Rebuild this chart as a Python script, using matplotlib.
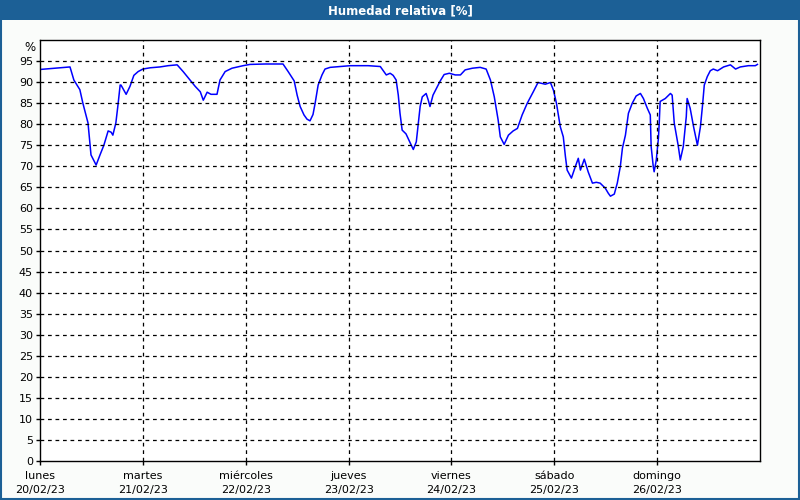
import matplotlib
matplotlib.use("Agg")
import matplotlib.pyplot as plt
from matplotlib.patches import Rectangle
import numpy as np

# horas desde lunes 00:00 y humedad relativa (%)
horas = [0, 3.5, 7.0, 7.9, 9.3, 10.0, 11.2, 11.7, 11.9, 12.6, 13.1, 14.0, 14.9, 15.9,
         16.6, 17.0, 17.7, 18.2, 18.7, 18.9, 20.1, 21.0, 21.9, 22.9, 24.0, 25.7, 28.0,
         29.9, 32.0, 33.4, 35.0, 36.2, 37.4, 38.1, 39.0, 39.9, 41.3, 42.0, 43.2, 44.8,
         47.4, 49.0, 52.5, 56.7, 57.9, 59.3, 60.0, 60.7, 61.6, 62.3, 63.0, 63.7, 64.2,
         64.9, 65.8, 66.5, 67.7, 72.4, 76.6, 79.4, 80.8, 81.7, 82.4, 83.1, 83.6, 84.0,
         84.5, 85.4, 86.1, 87.1, 87.8, 88.7, 89.2, 90.1, 90.6, 91.0, 91.7, 93.4, 94.3,
         95.5, 96.9, 98.1, 99.2, 100.9, 102.7, 104.1, 105.1, 106.0, 106.9, 107.4, 108.3,
         109.3, 110.4, 111.4, 112.5, 113.7, 115.1, 116.2, 117.9, 119.1, 119.8, 120.5,
         121.4, 122.1, 122.6, 123.0, 124.0, 124.9, 125.6, 126.1, 127.0, 127.9, 128.9,
         129.8, 130.7, 131.9, 132.6, 133.1, 134.0, 134.7, 135.4, 135.9, 136.6, 137.3,
         138.2, 139.1, 140.1, 140.8, 141.7, 142.4, 142.6, 143.1, 143.3, 143.8, 144.3,
         144.5, 144.7, 145.9, 147.1, 147.5, 148.0, 148.9, 149.4, 150.1, 150.8, 151.0,
         151.7, 152.5, 153.4, 154.1, 154.6, 155.0, 155.7, 156.4, 157.1, 158.1, 159.5,
         161.1, 162.3, 163.4, 165.3, 166.9, 167.4]
humedad = [93.0, 93.3, 93.6, 90.5, 88.2, 85.0, 80.3, 75.0, 72.7, 71.3, 70.3, 72.7, 75.0,
           78.4, 78.1, 77.4, 80.3, 84.6, 89.3, 89.3, 87.1, 89.0, 91.6, 92.5, 93.1, 93.4,
           93.6, 93.9, 94.1, 92.5, 90.5, 89.0, 87.7, 85.7, 87.6, 87.1, 87.1, 90.5, 92.5,
           93.3, 93.9, 94.2, 94.3, 94.3, 92.5, 90.3, 86.9, 84.2, 82.2, 81.2, 80.8, 82.3,
           85.0, 89.3, 91.7, 93.1, 93.5, 93.9, 93.9, 93.7, 91.7, 92.1, 91.6, 90.5, 86.9,
           82.6, 78.6, 77.7, 76.2, 74.0, 75.8, 84.2, 86.5, 87.3, 85.7, 84.2, 86.9, 90.3,
           91.8, 92.1, 91.7, 91.7, 92.9, 93.3, 93.5, 93.1, 90.5, 86.5, 81.0, 77.0, 75.2,
           77.4, 78.4, 79.0, 82.2, 85.0, 87.7, 89.9, 89.5, 89.9, 88.1, 85.0, 79.4, 77.0,
           72.3, 69.1, 67.2, 69.9, 71.9, 69.1, 71.7, 68.7, 66.0, 66.2, 66.0, 64.8, 63.6,
           62.9, 63.4, 66.0, 69.9, 74.3, 77.4, 82.6, 85.0, 86.7, 87.3, 86.1, 83.8, 82.2,
           74.7, 69.9, 68.7, 71.5, 76.7, 80.6, 85.4, 86.1, 87.3, 86.9, 80.2, 75.0, 71.5,
           74.7, 81.8, 86.1, 83.8, 79.4, 75.0, 79.4, 84.6, 89.3, 91.3, 92.7, 93.1, 92.7,
           93.6, 94.1, 93.1, 93.6, 93.9, 93.9, 94.2]

dias = ["lunes", "martes", "miércoles", "jueves", "viernes", "sábado", "domingo"]
fechas = ["20/02/23", "21/02/23", "22/02/23", "23/02/23", "24/02/23", "25/02/23", "26/02/23"]

fondo = "#fafcfa"
azul_barra = "#1c6096"

fig = plt.figure(figsize=(8, 5), dpi=100, facecolor=fondo)
# barra de titulo
fig.patches.append(Rectangle((0, 0.96), 1, 0.04, transform=fig.transFigure,
                             facecolor=azul_barra, edgecolor="none", zorder=0))
fig.patches.append(Rectangle((0.001, 0.002), 0.998, 0.996, transform=fig.transFigure,
                             facecolor="none", edgecolor=azul_barra, lw=1.5, zorder=5))
fig.text(0.5, 0.979, "Humedad relativa [%]", color="white", fontsize=8.5,
         fontweight="bold", ha="center", va="center")

ax = fig.add_axes([0.05, 0.078, 0.9, 0.842])
ax.set_facecolor("white")
x = np.array(horas) / 24.0
ax.plot(x, humedad, color="#0000ff", lw=1.1)

ax.set_xlim(0, 7)
ax.set_ylim(0, 100)
ax.set_yticks(np.arange(0, 100, 5))
ax.set_xticks(range(7))
ax.set_xticklabels([d + "\n" + f for d, f in zip(dias, fechas)], linespacing=1.55)
for v in range(5, 100, 5):
    ax.axhline(v, color="black", ls=(0, (3, 3)), lw=0.9)
for d in range(1, 7):
    ax.axvline(d, color="black", ls=(0, (3, 3)), lw=0.9)
ax.tick_params(axis="both", labelsize=8, length=3, width=1, color="black", pad=2)
ax.tick_params(axis="x", pad=4)
for s in ax.spines.values():
    s.set_linewidth(1)
    s.set_color("black")
fig.text(0.038, 0.905, "%", fontsize=8.5, ha="center", va="center")

fig.savefig("out.png", dpi=100, facecolor=fondo)
